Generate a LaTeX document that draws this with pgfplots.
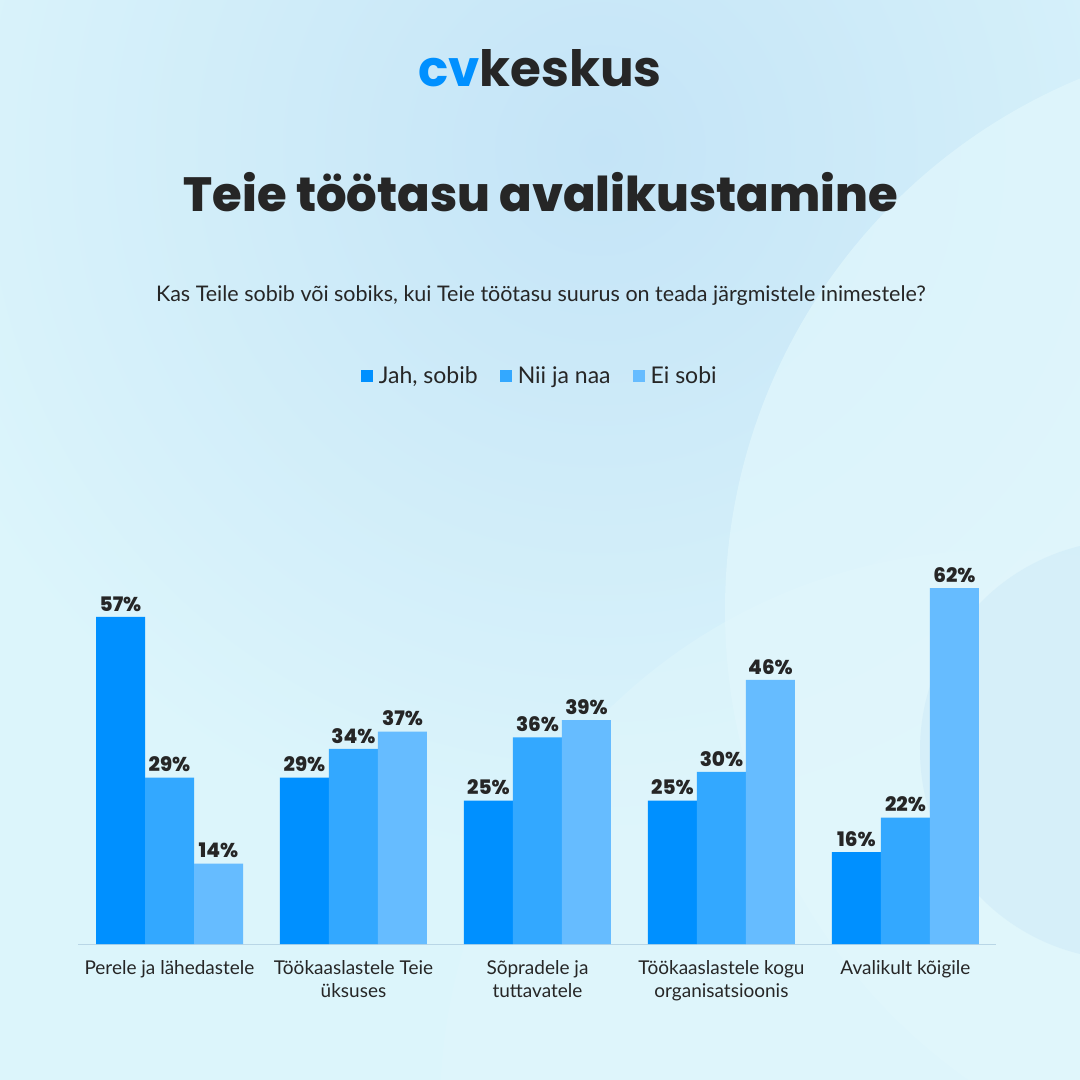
\documentclass[border=0pt]{standalone}
\usepackage{fontspec}
\setmainfont{Lato}
\newfontfamily\headfont{Poppins}
\newfontfamily\blackfont{Poppins}[UprightFont=* ExtraBold]
\usepackage{pgfplots}
\pgfplotsset{compat=1.18}
\definecolor{jah}{HTML}{0090FF}
\definecolor{nii}{HTML}{33A8FF}
\definecolor{ei}{HTML}{66BCFF}
\definecolor{ink}{HTML}{262626}
\definecolor{bgtop}{HTML}{C4E4F7}
\definecolor{bgbot}{HTML}{DCF5FB}
\definecolor{bglight}{HTML}{E2F7FC}
\definecolor{baseln}{HTML}{B9D6E6}

\begin{document}
\begin{tikzpicture}[x=1pt,y=1pt]
% background
\fill[bgbot] (0,0) rectangle (1080,1080);
\begin{scope}
\clip (0,0) rectangle (1080,1080);
\shade[inner color=bgtop, outer color=bgbot] (600,930) circle (720);
\fill[bglight, opacity=0.7] (1300,470) circle (575);
\fill[bglight, opacity=0.45] (1000,-30) circle (560);
\fill[bgtop, opacity=0.35] (1130,330) circle (210);
\end{scope}

% logo
\node[font=\headfont\bfseries\fontsize{50}{54}\selectfont, anchor=base] at (540,1080-87)
  {\textcolor{jah}{cv}\textcolor{ink}{keskus}};
% title
\node[font=\blackfont\fontsize{48}{54}\selectfont, text=ink, anchor=base] at (541,1080-212)
  {Teie töötasu avalikustamine};
% subtitle
\node[font=\fontsize{21.5}{24}\selectfont, text=ink, anchor=base] at (541,1080-302)
  {Kas Teile sobib või sobiks, kui Teie töötasu suurus on teada järgmistele inimestele?};

\begin{axis}[
  at={(78pt,136pt)}, anchor=south west,
  scale only axis, width=918pt, height=401.8pt,
  xmin=-0.4973, xmax=4.492, ymin=0, ymax=70,
  ybar=0pt, bar width=49pt,
  hide y axis,
  axis x line*=bottom,
  x axis line style={draw=baseln, line width=1pt, -},
  xtick={0,1,2,3,4},
  xticklabels={Perele ja lähedastele, Töökaaslastele Teie\\üksuses, Sõpradele ja\\tuttavatele, Töökaaslastele kogu\\organisatsioonis, Avalikult kõigile},
  xticklabel style={align=center, font=\fontsize{19}{23}\selectfont, text=ink, yshift=-13pt},
  major tick length=0pt,
  clip=false,
  nodes near coords={\pgfmathprintnumber{\pgfplotspointmeta}\%},
  every node near coord/.append style={font=\blackfont\fontsize{20}{21}\selectfont,
    text=ink, yshift=2pt, /pgf/number format/assume math mode=true},
  legend style={at={(0.503,1.414)}, anchor=center, draw=none, fill=none,
    legend columns=3, font=\fontsize{23}{26}\selectfont, text=ink,
    /tikz/every odd column/.append style={column sep=4pt},
    /tikz/every even column/.append style={column sep=20pt}},
  legend image code/.code={\fill[#1] (0pt,-6pt) rectangle (12pt,6pt);},
]
\addplot[fill=jah, draw=none] coordinates {(0,57) (1,29) (2,25) (3,25) (4,16)};
\addplot[fill=nii, draw=none] coordinates {(0,29) (1,34) (2,36) (3,30) (4,22)};
\addplot[fill=ei, draw=none] coordinates {(0,14) (1,37) (2,39) (3,46) (4,62)};
\legend{{Jah, sobib}, Nii ja naa, Ei sobi}
\end{axis}
\end{tikzpicture}
\end{document}
